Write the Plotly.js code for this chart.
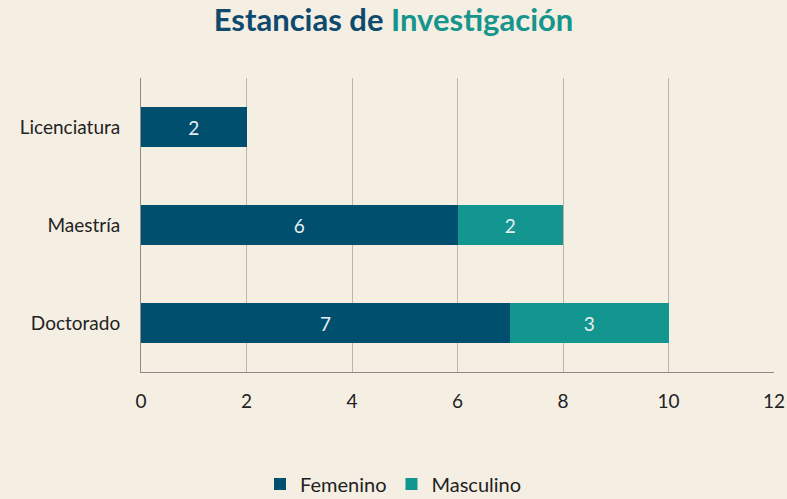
<!DOCTYPE html>
<html>
<head>
<meta charset="utf-8">
<script src="https://cdn.plot.ly/plotly-3.0.1.min.js"></script>
<style>html,body{margin:0;padding:0;background:#f5eee3;}</style>
</head>
<body>
<div id="chart" style="width:787px;height:499px;"></div>
<script>
const categories = ["Licenciatura", "Maestría", "Doctorado"];
const femenino = [2, 6, 7];
const masculino = [null, 2, 3];
const seriesNames = ["Femenino", "Masculino"];
const xTicks = [0, 2, 4, 6, 8, 10, 12];

const font = "Lato, 'Open Sans', sans-serif";
const traces = [
  {type: "bar", orientation: "h", name: seriesNames[0], y: categories, x: femenino,
   marker: {color: "#004f6e"}, text: femenino.map(v => v == null ? "" : String(v)),
   textposition: "inside", insidetextanchor: "middle",
   textfont: {color: "#e8eef0", size: 19, family: font}, hoverinfo: "x+name"},
  {type: "bar", orientation: "h", name: seriesNames[1], y: categories, x: masculino,
   marker: {color: "#12968f"}, text: masculino.map(v => v == null ? "" : String(v)),
   textposition: "inside", insidetextanchor: "middle",
   textfont: {color: "#e8eef0", size: 19, family: font}, hoverinfo: "x+name"}
];

const layout = {
  width: 787, height: 499,
  paper_bgcolor: "#f5eee3", plot_bgcolor: "#f5eee3",
  barmode: "stack", bargap: 0.6,
  margin: {l: 141, r: 13, t: 78, b: 127, autoexpand: false},
  title: {text: "<b><span style='color:#0e4a6e'>Estancias de </span><span style='color:#16958c'>Investigación</span></b>",
          font: {family: font, size: 31}, x: 0.5, xanchor: "center", y: 0.96, yanchor: "middle"},
  xaxis: {range: [0, 12], tickvals: xTicks, showgrid: true, gridcolor: "#bdb5aa", gridwidth: 1,
          zeroline: false, showline: true, linecolor: "#8f8a84", linewidth: 1,
          tickfont: {family: font, size: 19, color: "#222"}, ticks: "outside", ticklen: 12,
          tickcolor: "rgba(0,0,0,0)", fixedrange: true},
  yaxis: {categoryorder: "array", categoryarray: categories, autorange: false, range: [2.5, -0.5],
          showline: true, linecolor: "#8f8a84", linewidth: 1, showgrid: false,
          tickfont: {family: font, size: 19, color: "#222"}, ticks: "outside", ticklen: 16,
          tickcolor: "rgba(0,0,0,0)", fixedrange: true},
  legend: {orientation: "h", x: 0.5, xanchor: "center", xref: "container",
           y: 0.03, yanchor: "middle", yref: "container", traceorder: "normal",
           font: {family: font, size: 20, color: "#222"}, bgcolor: "rgba(0,0,0,0)"},
  showlegend: true
};

Plotly.newPlot("chart", traces, layout, {displayModeBar: false, staticPlot: true});
</script>
</body>
</html>
